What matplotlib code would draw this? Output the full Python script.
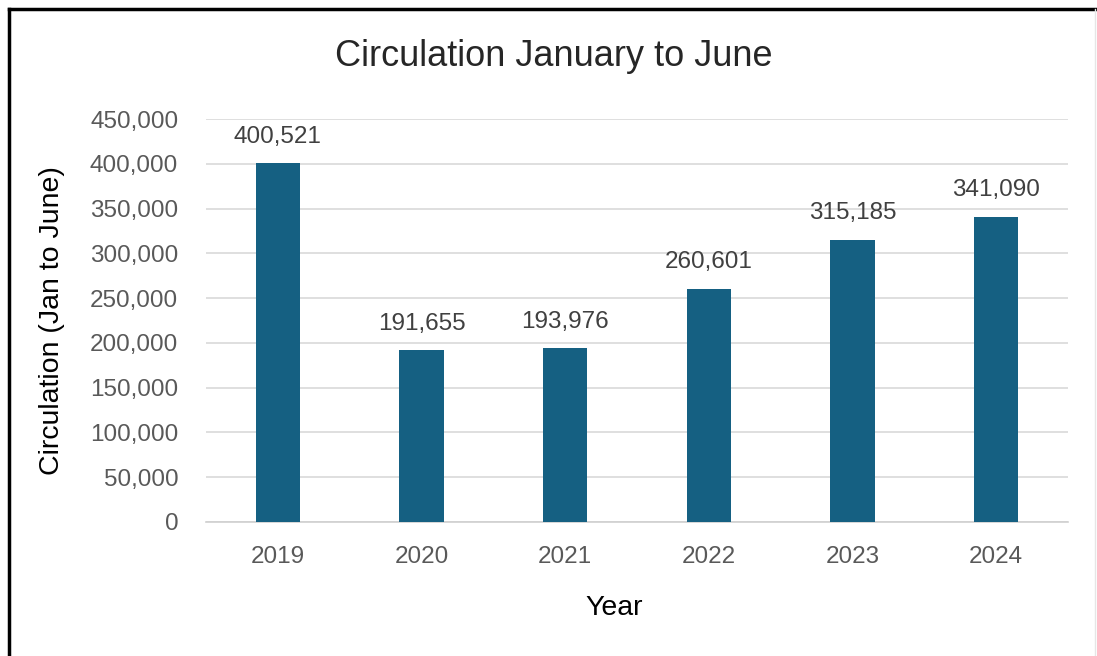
import matplotlib
matplotlib.use("Agg")
import matplotlib.pyplot as plt
from matplotlib.ticker import FuncFormatter, MultipleLocator
from matplotlib.lines import Line2D

years = ["2019", "2020", "2021", "2022", "2023", "2024"]
circulation = [400521, 191655, 193976, 260601, 315185, 341090]

plt.rcParams['font.family'] = ['Liberation Sans', 'DejaVu Sans']

W, H = 1097, 656
fig = plt.figure(figsize=(W / 100, H / 100), dpi=100)
ax = fig.add_axes([206 / W, 1 - 522 / H, (1068 - 206) / W, (522 - 119) / H])

x = range(len(years))
ax.bar(x, circulation, width=0.31, color="#156082", zorder=3)
ax.set_xlim(-0.5, len(years) - 0.5)
ax.set_ylim(0, 450000)
ax.yaxis.set_major_locator(MultipleLocator(50000))
ax.yaxis.set_major_formatter(FuncFormatter(lambda v, p: f"{int(v):,}"))
ax.set_xticks(list(x))
ax.set_xticklabels(years)
ax.grid(axis="y", color="#d9d9d9", linewidth=1.2, zorder=0)
for s in ["top", "right", "left"]:
    ax.spines[s].set_visible(False)
ax.spines["bottom"].set_color("#d0d0d0")
ax.spines["bottom"].set_linewidth(1.2)
ax.tick_params(axis="both", length=0, labelsize=17.5, colors="#595959")
ax.tick_params(axis="x", pad=17)
ax.tick_params(axis="y", pad=20)

for i, v in enumerate(circulation):
    ax.annotate(f"{v:,}", (i, v), xytext=(0, 11), textcoords="offset points",
                ha="center", va="bottom", fontsize=17.5, color="#404040")

ax.set_ylabel("Circulation (Jan to June)", fontsize=20.5, color="#000000", labelpad=18)
ax.set_xlabel("Year", fontsize=20.5, color="#000000", labelpad=20)
ax.xaxis.label.set_x((614 - 206) / (1068 - 206))
fig.text(554 / W, 1 - 57 / H, "Circulation January to June", ha="center", va="center",
         fontsize=26, color="#262626")

# border
fig.add_artist(Line2D([8.5 / W, 8.5 / W], [0, 1 - 8.5 / H], color="black", linewidth=2.5, transform=fig.transFigure))
fig.add_artist(Line2D([8.5 / W, 1095 / W], [1 - 8.5 / H, 1 - 8.5 / H], color="black", linewidth=2.5, transform=fig.transFigure))
fig.add_artist(Line2D([1095 / W, 1095 / W], [0, 1 - 8.5 / H], color="#e6e6e6", linewidth=1, transform=fig.transFigure))

fig.savefig("out.png", dpi=100, facecolor="white")
